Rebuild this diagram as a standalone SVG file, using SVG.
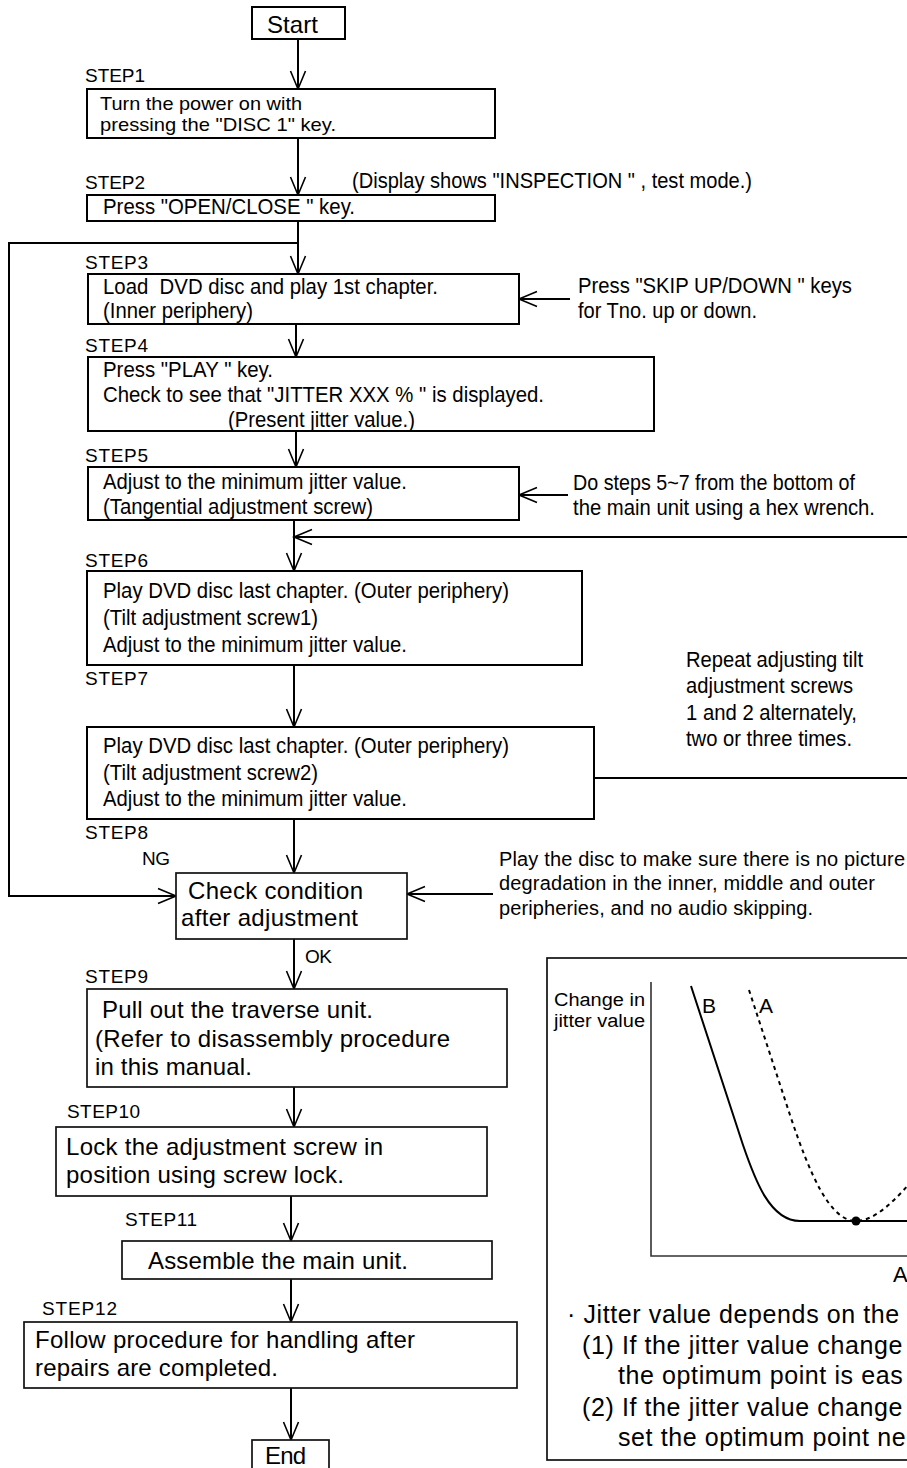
<svg xmlns="http://www.w3.org/2000/svg" width="907" height="1468" viewBox="0 0 907 1468">
<style>
.bg{fill:#fff}
.box{fill:#fff;stroke:#000;stroke-width:2}
.box2{fill:#fff;stroke:#111;stroke-width:1.7}
.t{font-family:"Liberation Sans",Arial,sans-serif;fill:#000}
.lbl{font-size:19px}
.b20{font-size:20px}
.b21{font-size:21.5px}
.b24{font-size:24px}
.cn{stroke:#000;stroke-width:2;fill:none}
.ax{stroke:#333;stroke-width:1.6;fill:none}
.note{font-size:25px;letter-spacing:0.6px}
</style>
<defs>
<marker id="arr" markerUnits="userSpaceOnUse" markerWidth="24" markerHeight="20" viewBox="0 0 24 20" refX="21" refY="10" orient="auto">
<path d="M3,2.5 L21,10 L3,17.5" fill="none" stroke="#000" stroke-width="1.6"/>
</marker>
</defs>
<rect class="bg" x="0" y="0" width="907" height="1468"/>

<g id="connectors">
<path class="cn" d="M298,39 V89" marker-end="url(#arr)"/>
<path class="cn" d="M298,138 V195" marker-end="url(#arr)"/>
<path class="cn" d="M298,221 V274" marker-end="url(#arr)"/>
<path class="cn" d="M298,243 H9 V896 H176" marker-end="url(#arr)"/>
<path class="cn" d="M296,324 V357" marker-end="url(#arr)"/>
<path class="cn" d="M296,431 V467" marker-end="url(#arr)"/>
<path class="cn" d="M294,520 V571" marker-end="url(#arr)"/>
<path class="cn" d="M907,537 H294" marker-end="url(#arr)"/>
<path class="cn" d="M594,778 H907"/>
<path class="cn" d="M294,665 V727" marker-end="url(#arr)"/>
<path class="cn" d="M294,819 V873" marker-end="url(#arr)"/>
<path class="cn" d="M493,894 H407" marker-end="url(#arr)"/>
<path class="cn" d="M294,939 V989" marker-end="url(#arr)"/>
<path class="cn" d="M294,1087 V1127" marker-end="url(#arr)"/>
<path class="cn" d="M291,1196 V1241" marker-end="url(#arr)"/>
<path class="cn" d="M291,1279 V1322" marker-end="url(#arr)"/>
<path class="cn" d="M291,1388 V1440" marker-end="url(#arr)"/>
<path class="cn" d="M570,299 H519" marker-end="url(#arr)"/>
<path class="cn" d="M568,495 H519" marker-end="url(#arr)"/>
</g>

<g id="start">
<rect class="box" x="252" y="7" width="93" height="32"/>
<text class="t b24" x="267" y="33" textLength="51">Start</text>
</g>

<g id="step1">
<text class="t lbl" x="85" y="82" textLength="60">STEP1</text>
<rect class="box" x="87" y="89" width="408" height="49"/>
<text class="t" x="100" y="110" font-size="19" textLength="202" lengthAdjust="spacingAndGlyphs">Turn the power on with</text>
<text class="t" x="100" y="131" font-size="19" textLength="236" lengthAdjust="spacingAndGlyphs">pressing the "DISC 1" key.</text>
</g>

<g id="step2">
<text class="t lbl" x="85" y="189" textLength="60">STEP2</text>
<text class="t b21" x="352" y="188" xml:space="preserve" textLength="400" lengthAdjust="spacingAndGlyphs">(Display shows "INSPECTION " , test mode.)</text>
<rect class="box" x="87" y="195" width="408" height="26"/>
<text class="t b21" x="103" y="214" xml:space="preserve" textLength="252" lengthAdjust="spacingAndGlyphs">Press "OPEN/CLOSE " key.</text>
</g>

<g id="step3">
<text class="t lbl" x="85" y="269" textLength="63">STEP3</text>
<rect class="box" x="88" y="274" width="431" height="50"/>
<text class="t b21" x="103" y="294" xml:space="preserve" textLength="335" lengthAdjust="spacingAndGlyphs">Load  DVD disc and play 1st chapter.</text>
<text class="t b21" x="103" y="318" textLength="150" lengthAdjust="spacingAndGlyphs">(Inner periphery)</text>
</g>

<g id="note-skip">
<text class="t b21" x="578" y="293" xml:space="preserve" textLength="274" lengthAdjust="spacingAndGlyphs">Press "SKIP UP/DOWN " keys</text>
<text class="t b21" x="578" y="318" textLength="179" lengthAdjust="spacingAndGlyphs">for Tno. up or down.</text>
</g>

<g id="step4">
<text class="t lbl" x="85" y="352" textLength="63">STEP4</text>
<rect class="box" x="88" y="357" width="566" height="74"/>
<text class="t b21" x="103" y="377" xml:space="preserve" textLength="170" lengthAdjust="spacingAndGlyphs">Press "PLAY " key.</text>
<text class="t b21" x="103" y="402" xml:space="preserve" textLength="441" lengthAdjust="spacingAndGlyphs">Check to see that "JITTER XXX % " is displayed.</text>
<text class="t b21" x="228" y="427" textLength="187" lengthAdjust="spacingAndGlyphs">(Present jitter value.)</text>
</g>

<g id="step5">
<text class="t lbl" x="85" y="462" textLength="63">STEP5</text>
<rect class="box" x="88" y="467" width="431" height="53"/>
<text class="t b21" x="103" y="489" textLength="304" lengthAdjust="spacingAndGlyphs">Adjust to the minimum jitter value.</text>
<text class="t b21" x="103" y="514" textLength="270" lengthAdjust="spacingAndGlyphs">(Tangential adjustment screw)</text>
</g>

<g id="note-hex">
<text class="t b21" x="573" y="490" textLength="282" lengthAdjust="spacingAndGlyphs">Do steps 5~7 from the bottom of</text>
<text class="t b21" x="573" y="515" textLength="302" lengthAdjust="spacingAndGlyphs">the main unit using a hex wrench.</text>
</g>

<g id="step6">
<text class="t lbl" x="85" y="567" textLength="63">STEP6</text>
<rect class="box" x="87" y="571" width="495" height="94"/>
<text class="t b21" x="103" y="598" textLength="406" lengthAdjust="spacingAndGlyphs">Play DVD disc last chapter. (Outer periphery)</text>
<text class="t b21" x="103" y="625" textLength="215" lengthAdjust="spacingAndGlyphs">(Tilt adjustment screw1)</text>
<text class="t b21" x="103" y="652" textLength="304" lengthAdjust="spacingAndGlyphs">Adjust to the minimum jitter value.</text>
</g>

<g id="note-repeat">
<text class="t b21" x="686" y="667" textLength="177" lengthAdjust="spacingAndGlyphs">Repeat adjusting tilt</text>
<text class="t b21" x="686" y="693" textLength="167" lengthAdjust="spacingAndGlyphs">adjustment screws</text>
<text class="t b21" x="686" y="720" textLength="171" lengthAdjust="spacingAndGlyphs">1 and 2 alternately,</text>
<text class="t b21" x="686" y="746" textLength="166" lengthAdjust="spacingAndGlyphs">two or three times.</text>
</g>

<g id="step7">
<text class="t lbl" x="85" y="685" textLength="63">STEP7</text>
<rect class="box" x="87" y="727" width="507" height="92"/>
<text class="t b21" x="103" y="753" textLength="406" lengthAdjust="spacingAndGlyphs">Play DVD disc last chapter. (Outer periphery)</text>
<text class="t b21" x="103" y="780" textLength="215" lengthAdjust="spacingAndGlyphs">(Tilt adjustment screw2)</text>
<text class="t b21" x="103" y="806" textLength="304" lengthAdjust="spacingAndGlyphs">Adjust to the minimum jitter value.</text>
</g>

<g id="step8">
<text class="t lbl" x="85" y="839" textLength="63">STEP8</text>
<text class="t lbl" x="142" y="865" textLength="28">NG</text>
<rect class="box2" x="176" y="873" width="231" height="66"/>
<text class="t b24" x="188" y="899" textLength="175">Check condition</text>
<text class="t b24" x="181" y="926" textLength="177">after adjustment</text>
<text class="t lbl" x="305" y="963" textLength="27">OK</text>
</g>

<g id="note-play">
<text class="t b20" x="499" y="866" textLength="406">Play the disc to make sure there is no picture</text>
<text class="t b20" x="499" y="890" textLength="376">degradation in the inner, middle and outer</text>
<text class="t b20" x="499" y="915" textLength="314">peripheries, and no audio skipping.</text>
</g>

<g id="step9">
<text class="t lbl" x="85" y="983" textLength="63">STEP9</text>
<rect class="box2" x="87" y="989" width="420" height="98"/>
<text class="t b24" x="102" y="1018" textLength="271">Pull out the traverse unit.</text>
<text class="t b24" x="95" y="1047" textLength="355">(Refer to disassembly procedure</text>
<text class="t b24" x="95" y="1075" textLength="157">in this manual.</text>
</g>

<g id="step10">
<text class="t lbl" x="67" y="1118" textLength="73">STEP10</text>
<rect class="box2" x="56" y="1127" width="431" height="69"/>
<text class="t b24" x="66" y="1155" textLength="317">Lock the adjustment screw in</text>
<text class="t b24" x="66" y="1183" textLength="278">position using screw lock.</text>
</g>

<g id="step11">
<text class="t lbl" x="125" y="1226" textLength="72">STEP11</text>
<rect class="box2" x="122" y="1241" width="370" height="38"/>
<text class="t b24" x="148" y="1269" textLength="260">Assemble the main unit.</text>
</g>

<g id="step12">
<text class="t lbl" x="42" y="1315" textLength="75">STEP12</text>
<rect class="box2" x="24" y="1322" width="493" height="66"/>
<text class="t b24" x="35" y="1348" textLength="380">Follow procedure for handling after</text>
<text class="t b24" x="35" y="1376" textLength="243">repairs are completed.</text>
</g>

<g id="end">
<rect class="box2" x="252" y="1440" width="77" height="40"/>
<text class="t b24" x="265" y="1464" textLength="41">End</text>
</g>

<g id="graph">
<rect class="box2" x="547" y="958" width="380" height="502"/>
<path class="ax" d="M651,982 V1256 H910"/>
<text class="t" x="554" y="1006" font-size="18" textLength="91" lengthAdjust="spacingAndGlyphs">Change in</text>
<text class="t" x="554" y="1027" font-size="18" textLength="91" lengthAdjust="spacingAndGlyphs">jitter value</text>
<text class="t" x="702" y="1013" font-size="21">B</text>
<text class="t" x="759" y="1013" font-size="21">A</text>
<path d="M691,986 L743,1145 C755,1180 770,1221 800,1221 L910,1221" fill="none" stroke="#000" stroke-width="2"/>
<path d="M749,990 L790,1115 C810,1175 830,1221 856,1221 C875,1221 895,1200 910,1183" fill="none" stroke="#000" stroke-width="2" stroke-dasharray="4,4"/>
<circle cx="856" cy="1221" r="4.5" fill="#000"/>
<text class="t" x="893" y="1282" font-size="22">A</text>
<text class="t note" x="567" y="1323">· Jitter value depends on the</text>
<text class="t note" x="582" y="1354">(1) If the jitter value change</text>
<text class="t note" x="618" y="1384">the optimum point is eas</text>
<text class="t note" x="582" y="1416">(2) If the jitter value change</text>
<text class="t note" x="618" y="1446">set the optimum point ne</text>
</g>
</svg>
